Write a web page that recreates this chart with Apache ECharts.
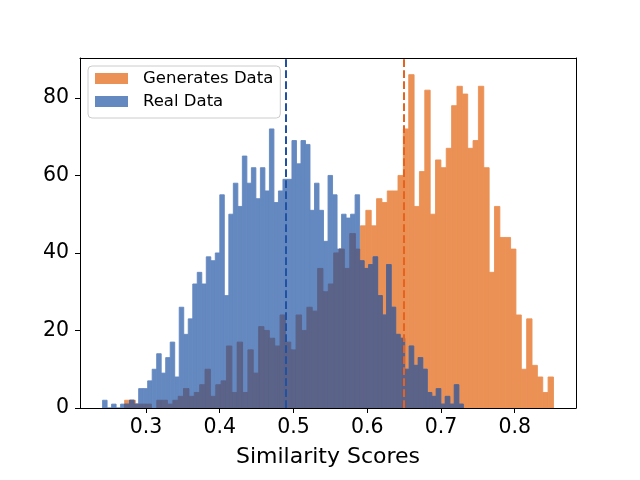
<!DOCTYPE html>
<html>
<head>
<meta charset="utf-8" />
<script type="text/javascript" src="https://cdn.jsdelivr.net/npm/echarts@6/dist/echarts.min.js"></script>
<style>
  html, body { margin: 0; padding: 0; background: #ffffff; }
  #main { width: 640px; height: 480px; }
</style>
</head>
<body>
<div id="main"></div>
<script>
// two histograms, 80 bins each (bin start / width on the similarity axis)
var genStart = 0.2711, genWidth = 0.007268;
var genCounts = [
  2, 2, 1, 1, 1, 0, 2, 2, 1, 2,
  3, 5, 3, 4, 6, 10, 3, 6, 7, 16,
  4, 17, 4, 15, 9, 21, 20, 18, 16, 24,
  17, 15, 24, 20, 26, 25, 36, 30, 32, 40,
  41, 36, 45, 41, 47, 51, 47, 54, 53, 56,
  56, 60, 72, 86, 52, 61, 82, 50, 64, 62,
  67, 78, 83, 81, 67, 69, 83, 62, 35, 52,
  44, 44, 41, 24, 10, 23, 11, 8, 4, 8
];
var realStart = 0.2412, realWidth = 0.006114;
var realCounts = [
  2, 0, 1, 0, 1, 1, 2, 1, 5, 5,
  7, 10, 14, 9, 13, 17, 8, 26, 19, 23,
  32, 35, 32, 39, 38, 40, 55, 29, 50, 58,
  52, 65, 58, 62, 54, 62, 56, 72, 53, 56,
  59, 59, 69, 63, 69, 68, 51, 58, 51, 43,
  60, 55, 41, 50, 49, 50, 55, 38, 36, 37,
  39, 29, 24, 37, 26, 19, 18, 10, 16, 11,
  13, 10, 4, 3, 5, 1, 3, 1, 6, 1
];
// dashed vertical lines (means)
var genMean = 0.6515, realMean = 0.4935;

var seriesNames = ['Generates Data', 'Real Data'];
var xTicks = [0.3, 0.4, 0.5, 0.6, 0.7, 0.8];
var yTicks = [0, 20, 40, 60, 80];
var xMin = 0.2106, xMax = 0.8831, yMax = 90.3;

function toBins(start, width, counts) {
  return counts.map(function (c, i) {
    return [start + i * width, start + (i + 1) * width, c];
  });
}
var genBins = toBins(genStart, genWidth, genCounts);
var realBins = toBins(realStart, realWidth, realCounts);

// where both histograms cover the same spot
var overlapBins = [];
genBins.forEach(function (g) {
  realBins.forEach(function (r) {
    var lo = Math.max(g[0], r[0]), hi = Math.min(g[1], r[1]), h = Math.min(g[2], r[2]);
    if (hi > lo && h > 0) overlapBins.push([lo, hi, h]);
  });
});

function binRect(params, api) {
  var p0 = api.coord([api.value(0), api.value(2)]);
  var p1 = api.coord([api.value(1), 0]);
  var c = api.visual('color');
  return {
    type: 'rect',
    shape: { x: p0[0], y: p0[1], width: p1[0] - p0[0], height: p1[1] - p0[1] },
    style: { fill: c, stroke: c, lineWidth: 0.9 }
  };
}

var font = 'DejaVu Sans';
var myChart = echarts.init(document.getElementById('main'));
var option = {
  animation: false,
  backgroundColor: '#ffffff',
  grid: { left: 80, top: 58, width: 496, height: 350 },
  legend: {
    data: seriesNames,
    orient: 'vertical',
    left: 88, top: 66,
    icon: 'rect',
    itemWidth: 33, itemHeight: 11, itemGap: 6,
    padding: [4, 7, 8, 7],
    backgroundColor: 'rgba(255,255,255,0.8)',
    borderColor: '#cccccc', borderWidth: 1, borderRadius: 4,
    textStyle: { fontFamily: font, fontSize: 16.5, color: '#000', lineHeight: 17, padding: [0, 0, 0, 10] }
  },
  xAxis: [{
    type: 'value', min: xMin, max: xMax, z: 5,
    name: 'Similarity Scores', nameLocation: 'middle', nameGap: 38,
    nameTextStyle: { fontFamily: font, fontSize: 22, color: '#000' },
    axisLine: { show: true, lineStyle: { color: '#000', width: 1 } },
    axisTick: { show: true, length: 5, lineStyle: { color: '#000' }, customValues: xTicks },
    axisLabel: {
      margin: 9, fontFamily: font, fontSize: 20.5, color: '#000', customValues: xTicks,
      formatter: function (v) { return v.toFixed(1); }
    },
    splitLine: { show: false }
  }, {
    type: 'value', min: xMin, max: xMax, position: 'top', z: 5,
    axisLine: { show: true, onZero: false, lineStyle: { color: '#000', width: 1 } },
    axisTick: { show: false }, axisLabel: { show: false }, splitLine: { show: false }
  }],
  yAxis: [{
    type: 'value', min: 0, max: yMax, z: 5,
    axisLine: { show: true, lineStyle: { color: '#000', width: 1 } },
    axisTick: { show: true, length: 5, lineStyle: { color: '#000' }, customValues: yTicks },
    axisLabel: {
      margin: 11, fontFamily: font, fontSize: 20.5, color: '#000', customValues: yTicks,
      padding: [4, 0, 0, 0]
    },
    splitLine: { show: false }
  }, {
    type: 'value', min: 0, max: yMax, position: 'right', z: 5,
    axisLine: { show: true, onZero: false, lineStyle: { color: '#000', width: 1 } },
    axisTick: { show: false }, axisLabel: { show: false }, splitLine: { show: false }
  }],
  series: [{
    name: seriesNames[0], type: 'custom', renderItem: binRect,
    itemStyle: { color: '#EB9155' },
    encode: { x: [0, 1], y: 2 }, data: genBins
  }, {
    name: seriesNames[1], type: 'custom', renderItem: binRect,
    itemStyle: { color: '#6488C0' },
    encode: { x: [0, 1], y: 2 }, data: realBins
  }, {
    name: 'overlap', type: 'custom', renderItem: binRect,
    itemStyle: { color: '#5B6389' },
    encode: { x: [0, 1], y: 2 }, data: overlapBins,
    markLine: {
      silent: true, symbol: ['none', 'none'], label: { show: false },
      data: [
        { xAxis: realMean, lineStyle: { color: '#2151A3', width: 2, type: [7.7, 3.3] } },
        { xAxis: genMean, lineStyle: { color: '#E6621E', width: 2, type: [7.7, 3.3] } }
      ]
    }
  }]
};
myChart.setOption(option);
</script>
</body>
</html>
